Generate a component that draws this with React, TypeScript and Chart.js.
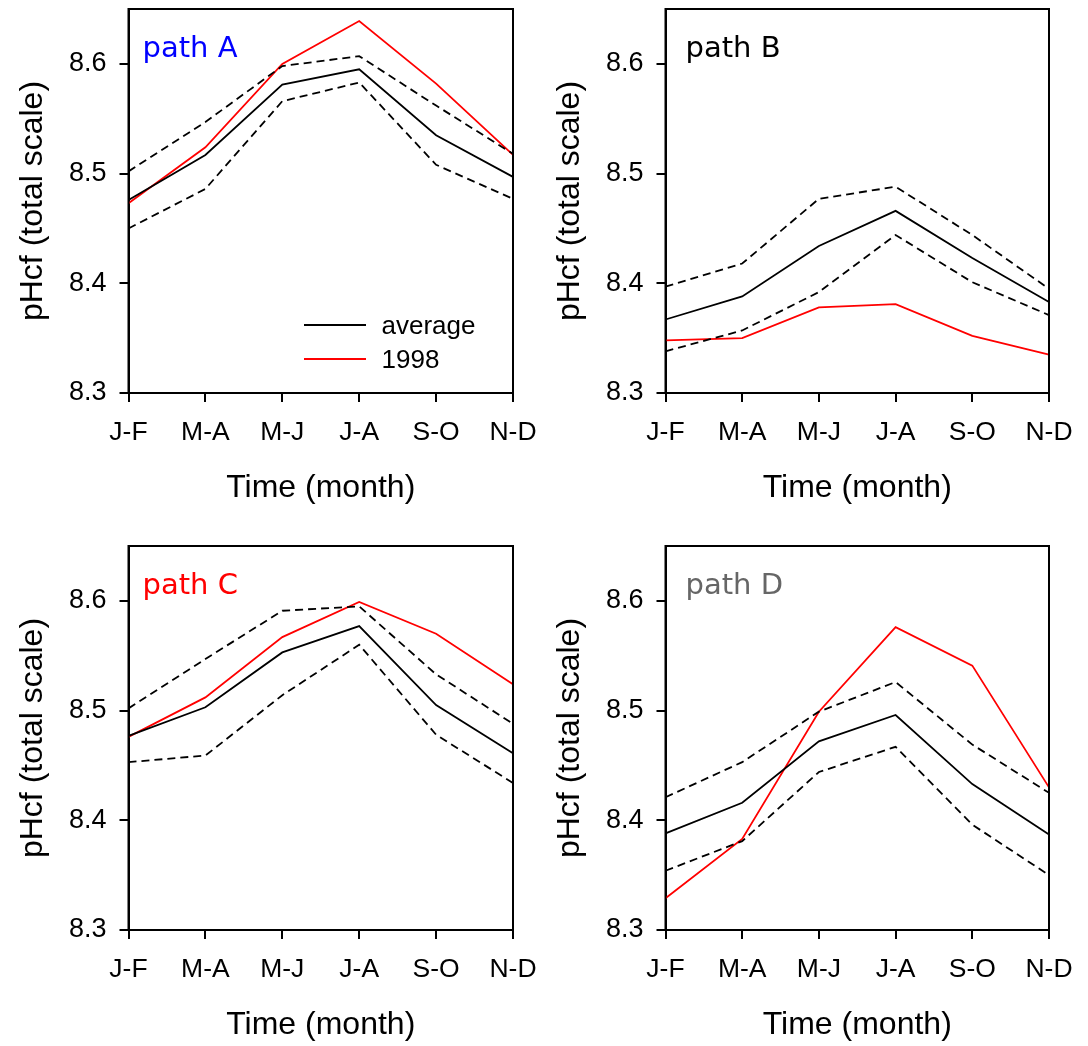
import React, { useEffect, useRef } from "react";
import { Chart, registerables } from "chart.js";

Chart.register(...registerables);
Chart.defaults.font.family = "'Liberation Sans', Arial, sans-serif";
Chart.defaults.color = "#000";

const months = ["J-F", "M-A", "M-J", "J-A", "S-O", "N-D"];
const yTicks = [8.3, 8.4, 8.5, 8.6];
const yMin = 8.3;
const yMax = 8.65;

const avgA = [8.476, 8.517, 8.581, 8.595, 8.535, 8.497];
const upperA = [8.502, 8.547, 8.598, 8.607, 8.562, 8.518];
const lowerA = [8.45, 8.486, 8.566, 8.583, 8.508, 8.477];
const red1998A = [8.473, 8.524, 8.6, 8.639, 8.582, 8.517];

const avgB = [8.367, 8.388, 8.434, 8.466, 8.423, 8.383];
const upperB = [8.397, 8.418, 8.477, 8.488, 8.444, 8.395];
const lowerB = [8.338, 8.357, 8.392, 8.444, 8.401, 8.371];
const red1998B = [8.348, 8.35, 8.378, 8.381, 8.352, 8.335];

const avgC = [8.477, 8.503, 8.553, 8.577, 8.505, 8.461];
const upperC = [8.502, 8.547, 8.591, 8.595, 8.533, 8.488];
const lowerC = [8.453, 8.459, 8.514, 8.56, 8.478, 8.434];
const red1998C = [8.476, 8.512, 8.567, 8.599, 8.57, 8.524];

const avgD = [8.388, 8.416, 8.472, 8.496, 8.433, 8.387];
const upperD = [8.421, 8.453, 8.499, 8.526, 8.469, 8.425];
const lowerD = [8.354, 8.381, 8.444, 8.467, 8.396, 8.35];
const red1998D = [8.329, 8.383, 8.499, 8.576, 8.541, 8.43];

type PanelProps = {
  label: string;
  labelColor: string;
  labelDx: number;
  avg: number[];
  upper: number[];
  lower: number[];
  red: number[];
  legend: boolean;
  x: number;
  y: number;
  w: number;
  h: number;
  areaLeft: number;
  areaRight: number;
  areaTop: number;
  areaBottom: number;
};

function Panel(p: PanelProps) {
  const ref = useRef<HTMLCanvasElement>(null);
  useEffect(() => {
    if (!ref.current) return;
    const yAxisWidth = p.areaLeft - p.x;
    const padRight = p.x + p.w - p.areaRight;
    const padTop = p.areaTop - p.y;
    const xAxisHeight = p.y + p.h - p.areaBottom;
    const titleBottomPad = xAxisHeight - 95 - 19.2;

    const decor = {
      id: "decor",
      afterDraw(chart: any) {
        const { ctx, chartArea } = chart;
        const { left, top, right, bottom } = chartArea;
        ctx.save();
        ctx.strokeStyle = "#000";
        ctx.lineWidth = 2;
        ctx.strokeRect(left, top, right - left, bottom - top);
        ctx.font = "29px 'DejaVu Sans', sans-serif";
        ctx.fillStyle = p.labelColor;
        ctx.textAlign = "left";
        ctx.textBaseline = "alphabetic";
        ctx.fillText(p.label, left + p.labelDx, top + 48);
        if (p.legend) {
          const items = [
            { text: chart.data.datasets[2].label, color: chart.data.datasets[2].borderColor, dy: 316 },
            { text: chart.data.datasets[3].label, color: chart.data.datasets[3].borderColor, dy: 350 },
          ];
          ctx.font = "26px 'Liberation Sans', Arial, sans-serif";
          for (const it of items) {
            ctx.strokeStyle = it.color;
            ctx.lineWidth = 1.8;
            ctx.beginPath();
            ctx.moveTo(left + 175.5, top + it.dy);
            ctx.lineTo(left + 237.5, top + it.dy);
            ctx.stroke();
            ctx.fillStyle = "#000";
            ctx.fillText(it.text, left + 253, top + it.dy + 9);
          }
        }
        ctx.restore();
      },
    };

    const chart = new Chart(ref.current, {
      type: "line",
      data: {
        labels: months,
        datasets: [
          { label: "upper", data: p.upper, borderColor: "#000", borderDash: [8, 5], borderWidth: 1.8, pointRadius: 0, fill: false },
          { label: "lower", data: p.lower, borderColor: "#000", borderDash: [8, 5], borderWidth: 1.8, pointRadius: 0, fill: false },
          { label: "average", data: p.avg, borderColor: "#000", borderWidth: 1.8, pointRadius: 0, fill: false },
          { label: "1998", data: p.red, borderColor: "#ff0000", borderWidth: 1.8, pointRadius: 0, fill: false },
        ],
      },
      options: {
        animation: false,
        responsive: false,
        layout: { padding: { top: padTop, right: padRight, left: 0, bottom: 0 } },
        plugins: { legend: { display: false }, tooltip: { enabled: false } },
        scales: {
          x: {
            type: "category",
            offset: false,
            grid: { offset: false, drawOnChartArea: false, drawTicks: true, tickLength: 9, color: "#000", lineWidth: 2 },
            border: { display: true, color: "#000", width: 2 },
            ticks: { color: "#000", font: { size: 26.5 }, padding: 15, maxRotation: 0, autoSkip: false },
            title: { display: true, text: "Time (month)", color: "#000", font: { size: 32 }, padding: { top: 0, bottom: titleBottomPad } },
            afterFit: (s: any) => {
              s.height = xAxisHeight;
              s.paddingLeft = 0;
              s.paddingRight = 0;
              s.paddingTop = 0;
              s.paddingBottom = 0;
            },
          },
          y: {
            min: yMin,
            max: yMax,
            afterBuildTicks: (s: any) => {
              s.ticks = yTicks.map((v) => ({ value: v }));
            },
            grid: { drawOnChartArea: false, drawTicks: true, tickLength: 9, color: "#000", lineWidth: 2 },
            border: { display: true, color: "#000", width: 2 },
            ticks: { color: "#000", font: { size: 27 }, padding: 13, callback: (v: any) => Number(v).toFixed(1) },
            title: { display: true, text: "pHcf (total scale)", color: "#000", font: { size: 32 }, padding: { top: 14, bottom: 0 } },
            afterFit: (s: any) => {
              s.width = yAxisWidth;
              s.paddingLeft = 0;
              s.paddingRight = 0;
              s.paddingTop = 0;
              s.paddingBottom = 0;
            },
          },
        },
      } as any,
      plugins: [decor],
    });
    return () => chart.destroy();
  }, []);
  return (
    <canvas
      ref={ref}
      width={p.w}
      height={p.h}
      style={{ position: "absolute", left: p.x, top: p.y, width: p.w, height: p.h }}
    />
  );
}

export default function App() {
  return (
    <div style={{ position: "absolute", left: 0, top: 0, width: 1088, height: 1046, overflow: "hidden", background: "#fff" }}>
      <Panel label="path A" labelColor="#0000ff" labelDx={14} avg={avgA} upper={upperA} lower={lowerA} red={red1998A} legend={true}
        x={0} y={0} w={544} h={530} areaLeft={128.5} areaRight={513} areaTop={9} areaBottom={393} />
      <Panel label="path B" labelColor="#000000" labelDx={20} avg={avgB} upper={upperB} lower={lowerB} red={red1998B} legend={false}
        x={537} y={0} w={551} h={530} areaLeft={665.5} areaRight={1049} areaTop={9} areaBottom={393} />
      <Panel label="path C" labelColor="#ff0000" labelDx={14} avg={avgC} upper={upperC} lower={lowerC} red={red1998C} legend={false}
        x={0} y={537} w={544} h={509} areaLeft={128.5} areaRight={513} areaTop={546} areaBottom={930} />
      <Panel label="path D" labelColor="#666666" labelDx={20} avg={avgD} upper={upperD} lower={lowerD} red={red1998D} legend={false}
        x={537} y={537} w={551} h={509} areaLeft={665.5} areaRight={1049} areaTop={546} areaBottom={930} />
    </div>
  );
}
